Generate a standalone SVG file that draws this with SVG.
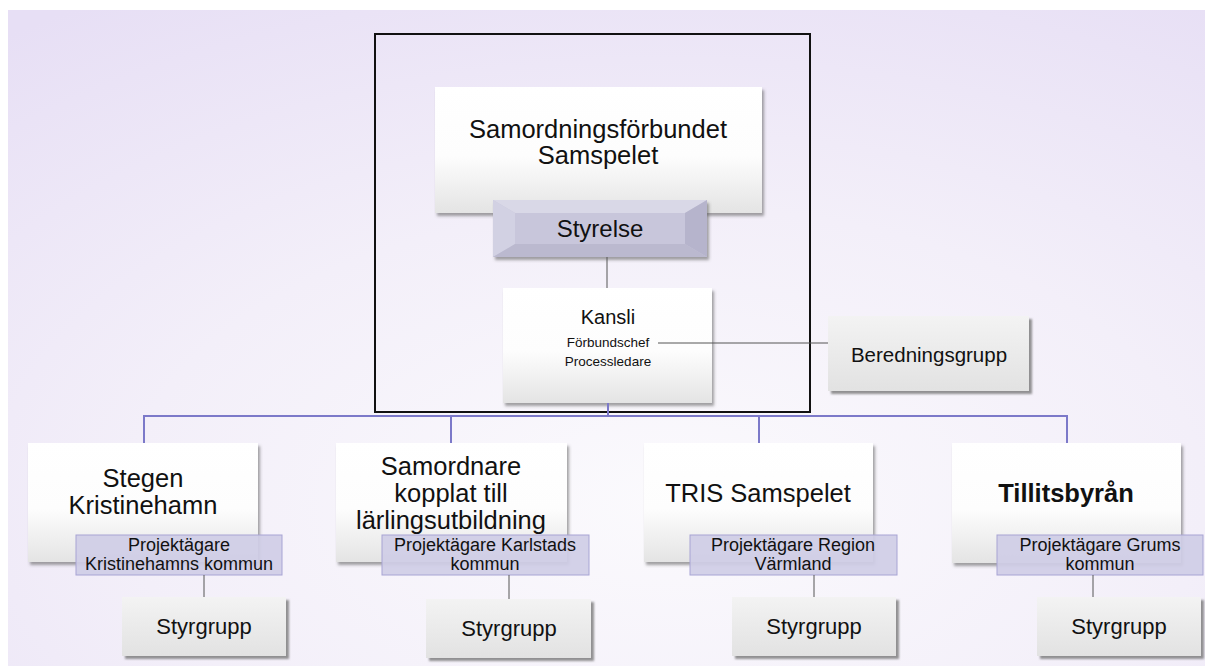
<svg xmlns="http://www.w3.org/2000/svg" width="1205" height="666" viewBox="0 0 1205 666">
<defs>
<radialGradient id="bg" cx="0.55" cy="0.75" r="0.9">
<stop offset="0" stop-color="#fbfafd"/>
<stop offset="0.5" stop-color="#f3eff9"/>
<stop offset="1" stop-color="#e7dff5"/>
</radialGradient>
<linearGradient id="wbox" x1="0" y1="0" x2="0" y2="1">
<stop offset="0" stop-color="#ffffff"/>
<stop offset="0.55" stop-color="#fdfdfd"/>
<stop offset="1" stop-color="#e4e4e4"/>
</linearGradient>
<linearGradient id="gbox" x1="0" y1="0" x2="0" y2="1">
<stop offset="0" stop-color="#f3f3f3"/>
<stop offset="1" stop-color="#e2e2e2"/>
</linearGradient>
<filter id="sh" x="-10%" y="-10%" width="125%" height="130%">
<feDropShadow dx="2" dy="3" stdDeviation="1.5" flood-color="#555" flood-opacity="0.55"/>
</filter>
<filter id="sh2" x="-10%" y="-10%" width="125%" height="130%">
<feDropShadow dx="3" dy="3" stdDeviation="1" flood-color="#777" flood-opacity="0.8"/>
</filter>
</defs>
<style>
text{font-family:"Liberation Sans",Arial,sans-serif;fill:#111;text-anchor:middle}
.w{fill:url(#wbox);filter:url(#sh)}
.g{fill:url(#gbox);filter:url(#sh2)}
.lab{fill:#cfcde6;fill-opacity:0.92;stroke:#a7a4d4;stroke-width:1}
.big{font-size:25.5px}
.lt{font-size:18px}
.sg{font-size:22px}
.blue{stroke:#7c79c9;stroke-width:2;fill:none}
.gray{stroke:#555;stroke-width:1;fill:none}
</style>
<rect x="8" y="10" width="1197" height="656" fill="url(#bg)"/>

<rect id="frame" x="375" y="34" width="435" height="378" fill="none" stroke="#111" stroke-width="2"/>

<g id="samordningsforbundet">
<rect class="w" x="435" y="87" width="327" height="126"/>
<text class="big" x="598" y="138">Samordningsförbundet</text>
<text class="big" x="598" y="164">Samspelet</text>
</g>

<g id="styrelse">
<rect x="493" y="200" width="214" height="57" fill="#c8c6db" filter="url(#sh)"/>
<polygon points="493,200 707,200 685,213 515,213" fill="#d9d8e7"/>
<polygon points="493,200 515,213 515,244 493,257" fill="#d2d1e3"/>
<polygon points="707,200 685,213 685,244 707,257" fill="#b6b4cc"/>
<polygon points="493,257 707,257 685,244 515,244" fill="#bbb9cf"/>
<text x="600" y="237" style="font-size:24px">Styrelse</text>
</g>

<g id="kansli">
<rect class="w" x="503" y="288" width="209" height="115"/>
<text x="608" y="324" style="font-size:20px">Kansli</text>
<text x="608" y="347" style="font-size:13.5px">Förbundschef</text>
<text x="608" y="366" style="font-size:13.5px">Processledare</text>
</g>

<g id="beredningsgrupp">
<rect class="g" x="828" y="316" width="201" height="75"/>
<text x="929" y="362" style="font-size:20.5px">Beredningsgrupp</text>
</g>

<g id="stegen">
<rect class="w" x="28" y="443" width="230" height="119"/>
<text class="big" x="143" y="487">Stegen</text>
<text class="big" x="143" y="514">Kristinehamn</text>
<rect class="lab" x="76" y="535" width="206" height="40"/>
<text class="lt" x="179" y="551">Projektägare</text>
<text class="lt" x="179" y="570">Kristinehamns kommun</text>
</g>
<g id="styrgrupp1">
<rect class="g" x="122" y="597" width="164" height="59"/>
<text class="sg" x="204" y="634">Styrgrupp</text>
</g>

<g id="samordnare">
<rect class="w" x="336" y="443" width="231" height="119"/>
<text class="big" x="451" y="475">Samordnare</text>
<text class="big" x="451" y="502">kopplat till</text>
<text class="big" x="451" y="529">lärlingsutbildning</text>
<rect class="lab" x="382" y="535" width="207" height="40"/>
<text class="lt" x="485" y="551">Projektägare Karlstads</text>
<text class="lt" x="485" y="570">kommun</text>
</g>
<g id="styrgrupp2">
<rect class="g" x="426" y="599" width="165" height="59"/>
<text class="sg" x="509" y="636">Styrgrupp</text>
</g>

<g id="tris">
<rect class="w" x="644" y="443" width="229" height="119"/>
<text class="big" x="758" y="502">TRIS Samspelet</text>
<rect class="lab" x="690" y="535" width="207" height="40"/>
<text class="lt" x="793" y="551">Projektägare Region</text>
<text class="lt" x="793" y="570">Värmland</text>
</g>
<g id="styrgrupp3">
<rect class="g" x="732" y="597" width="164" height="59"/>
<text class="sg" x="814" y="634">Styrgrupp</text>
</g>

<g id="tillitsbyran">
<rect class="w" x="952" y="443" width="229" height="120"/>
<text class="big" x="1066" y="502" style="font-weight:bold">Tillitsbyrån</text>
<rect class="lab" x="997" y="535" width="206" height="40"/>
<text class="lt" x="1100" y="551">Projektägare Grums</text>
<text class="lt" x="1100" y="570">kommun</text>
</g>
<g id="styrgrupp4">
<rect class="g" x="1037" y="597" width="164" height="59"/>
<text class="sg" x="1119" y="634">Styrgrupp</text>
</g>

<g id="connectors">
<line class="gray" x1="607" y1="257" x2="607" y2="288"/>
<line class="gray" x1="658" y1="343" x2="828" y2="343"/>
<polyline class="blue" points="144,443 144,416 1067,416 1067,443"/>
<line class="blue" x1="451" y1="416" x2="451" y2="443"/>
<line class="blue" x1="759" y1="416" x2="759" y2="443"/>
<line class="blue" x1="608" y1="403" x2="608" y2="416"/>
<line class="gray" x1="204" y1="575" x2="204" y2="597"/>
<line class="gray" x1="509" y1="575" x2="509" y2="599"/>
<line class="gray" x1="814" y1="575" x2="814" y2="597"/>
<line class="gray" x1="1093" y1="575" x2="1093" y2="597"/>
</g>
</svg>
